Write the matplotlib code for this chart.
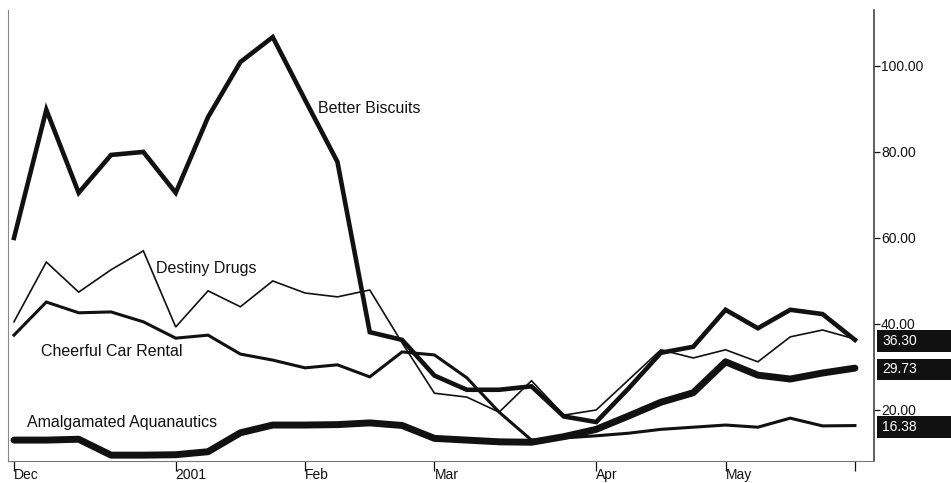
import numpy as np
import matplotlib.pyplot as plt
import matplotlib.transforms as mtransforms
from matplotlib.patches import Rectangle

plt.rcParams['font.family'] = ['Liberation Sans', 'DejaVu Sans']

# weekly closing prices, Dec 2000 - Jun 2001
better_biscuits = [60.0, 89.8, 70.5, 79.3, 80.0, 70.5, 88.1, 100.9, 106.7, 92.1, 77.7, 38.1, 36.3, 28.0,
                   24.7, 24.7, 25.5, 18.5, 17.2, 25.0, 33.3, 34.7, 43.3, 39.0, 43.3, 42.3, 36.30]
destiny_drugs = [40.5, 54.4, 47.4, 52.6, 57.0, 39.3, 47.7, 44.0, 50.0, 47.2, 46.3, 47.9, 35.6, 23.9,
                 23.0, 19.5, 26.8, 18.8, 20.0, 27.0, 34.0, 32.1, 34.0, 31.2, 37.0, 38.6, 36.5]
cheerful_car = [37.4, 45.1, 42.6, 42.8, 40.5, 36.7, 37.4, 33.0, 31.6, 29.8, 30.5, 27.7, 33.5, 32.8,
                27.5, 19.5, 13.0, 13.5, 14.0, 14.6, 15.5, 16.0, 16.5, 16.0, 18.1, 16.3, 16.38]
amalgamated = [13.0, 13.0, 13.2, 9.5, 9.5, 9.6, 10.3, 14.7, 16.5, 16.5, 16.6, 17.0, 16.4, 13.4,
               13.0, 12.6, 12.5, 13.8, 15.5, 18.6, 21.8, 24.0, 31.2, 28.1, 27.2, 28.6, 29.73]

weeks = np.arange(len(better_biscuits))
month_ticks = [0, 5, 9, 13, 18, 22, 26]
month_labels = ['Dec', '2001', 'Feb', 'Mar', 'Apr', 'May', '']
last_values = [36.30, 29.73, 16.38]

fig = plt.figure(figsize=(9.51, 4.83), dpi=100)
ax = fig.add_axes([8 / 951, 22 / 483, 866 / 951, 451 / 483])

ink = '#111111'
ax.plot(weeks, destiny_drugs, color=ink, lw=1.2, solid_joinstyle='miter')
ax.plot(weeks, cheerful_car, color=ink, lw=2.2, solid_joinstyle='miter')
ax.plot(weeks, better_biscuits, color=ink, lw=3.3, solid_joinstyle='miter')
ax.plot(weeks, amalgamated, color=ink, lw=5.0, solid_joinstyle='round', solid_capstyle='round')

# series names next to their lines
ax.text(9.4, 90.2, 'Better Biscuits', fontsize=11.5, color=ink, va='center')
ax.text(4.4, 52.8, 'Destiny Drugs', fontsize=11.5, color=ink, va='center')
ax.text(0.83, 33.5, 'Cheerful Car Rental', fontsize=11.5, color=ink, va='center')
ax.text(0.40, 17.2, 'Amalgamated Aquanautics', fontsize=11.5, color=ink, va='center')

ax.set_xlim(-0.185, 26.59)
ax.set_ylim(8.14, 113.0)

ax.yaxis.tick_right()
ax.set_yticks([20, 40, 60, 80, 100])
ax.set_yticklabels(['%.2f' % v for v in [20, 40, 60, 80, 100]])
ax.tick_params(axis='y', direction='out', length=4, width=0.9, pad=1, labelsize=10,
               colors=ink)

ax.set_xticks(month_ticks)
ax.set_xticklabels(month_labels, ha='left')
ax.tick_params(axis='x', direction='out', length=7, width=0.9, pad=-2, labelsize=10,
               colors=ink)

ax.spines['top'].set_visible(False)
ax.spines['left'].set_color('#888888')
ax.spines['left'].set_linewidth(0.8)
ax.spines['bottom'].set_color('#777777')
ax.spines['bottom'].set_linewidth(0.8)
ax.spines['right'].set_color('#333333')
ax.spines['right'].set_linewidth(1.1)

# black boxes with the latest value on the right axis
trans = mtransforms.blended_transform_factory(ax.transAxes, ax.transData)
for v in last_values:
    ax.add_patch(Rectangle((1.003, v - 2.8), 0.1, 5.0, transform=trans,
                           facecolor='#111111', edgecolor='none', clip_on=False))
    ax.text(1.0095, v - 0.3, '%.2f' % v, transform=trans, color='white',
            fontsize=10, va='center', ha='left', clip_on=False)

fig.savefig('out.png', dpi=100)
